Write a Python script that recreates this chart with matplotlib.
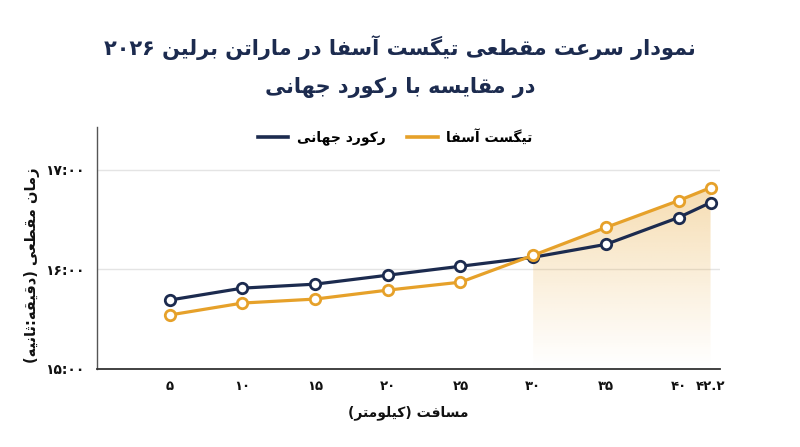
import re
import numpy as np
import matplotlib
matplotlib.use("Agg")
import matplotlib.pyplot as plt
from matplotlib.patches import Polygon
from matplotlib.lines import Line2D

# data (split times in minutes)
distances = [5, 10, 15, 20, 25, 30, 35, 40, 42.2]
dist_labels = ["۵", "۱۰", "۱۵", "۲۰", "۲۵", "۳۰", "۳۵", "۴۰", "۴۲.۲"]
world_record = [15.69, 15.81, 15.85, 15.94, 16.03, 16.12, 16.25, 16.52, 16.67]
asefa = [15.54, 15.66, 15.70, 15.79, 15.87, 16.14, 16.42, 16.69, 16.82]
y_ticks = [15, 16, 17]
y_tick_labels = ["۱۵:۰۰", "۱۶:۰۰", "۱۷:۰۰"]

title_lines = ["نمودار سرعت مقطعی تیگست آسفا در ماراتن برلین ۲۰۲۶",
               "در مقایسه با رکورد جهانی"]
label_wr = "رکورد جهانی"
label_asefa = "تیگست آسفا"
x_title = "مسافت (کیلومتر)"
y_title = "زمان مقطعی (دقیقه:ثانیه)"

NAVY = "#1c2b4f"
ORANGE = "#e6a12a"

# --- tiny persian shaper (matplotlib has no text shaping / bidi) ---
FORMS = {
    'ا': ('\uFE8D', '\uFE8E', None, None),
    'آ': ('\uFE81', '\uFE82', None, None),
    'ب': ('\uFE8F', '\uFE90', '\uFE91', '\uFE92'),
    'ت': ('\uFE95', '\uFE96', '\uFE97', '\uFE98'),
    'ث': ('\uFE99', '\uFE9A', '\uFE9B', '\uFE9C'),
    'ج': ('\uFE9D', '\uFE9E', '\uFE9F', '\uFEA0'),
    'د': ('\uFEA9', '\uFEAA', None, None),
    'ر': ('\uFEAD', '\uFEAE', None, None),
    'ز': ('\uFEAF', '\uFEB0', None, None),
    'س': ('\uFEB1', '\uFEB2', '\uFEB3', '\uFEB4'),
    'ط': ('\uFEC1', '\uFEC2', '\uFEC3', '\uFEC4'),
    'ع': ('\uFEC9', '\uFECA', '\uFECB', '\uFECC'),
    'ف': ('\uFED1', '\uFED2', '\uFED3', '\uFED4'),
    'ق': ('\uFED5', '\uFED6', '\uFED7', '\uFED8'),
    'ک': ('\uFB8E', '\uFB8F', '\uFB90', '\uFB91'),
    'گ': ('\uFB92', '\uFB93', '\uFB94', '\uFB95'),
    'ل': ('\uFEDD', '\uFEDE', '\uFEDF', '\uFEE0'),
    'م': ('\uFEE1', '\uFEE2', '\uFEE3', '\uFEE4'),
    'ن': ('\uFEE5', '\uFEE6', '\uFEE7', '\uFEE8'),
    'ه': ('\uFEE9', '\uFEEA', '\uFEEB', '\uFEEC'),
    'و': ('\uFEED', '\uFEEE', None, None),
    'ی': ('\uFBFC', '\uFBFD', '\uFBFE', '\uFBFF'),
}
MIRROR = {'(': ')', ')': '('}


def fa(text):
    out = []
    n = len(text)
    for i, ch in enumerate(text):
        if ch not in FORMS:
            out.append(ch)
            continue
        prev = text[i - 1] if i > 0 else ''
        nxt = text[i + 1] if i < n - 1 else ''
        join_prev = prev in FORMS and FORMS[prev][2] is not None
        join_next = FORMS[ch][2] is not None and nxt in FORMS
        f = FORMS[ch]
        if join_prev and join_next:
            out.append(f[3])
        elif join_prev:
            out.append(f[1])
        elif join_next:
            out.append(f[2])
        else:
            out.append(f[0])
    vis = ''.join(MIRROR.get(c, c) for c in reversed(out))
    # numbers keep left-to-right order
    return re.sub(r'[0-9۰-۹][0-9۰-۹.:]*', lambda m: m.group(0)[::-1], vis)


plt.rcParams['font.family'] = ['DejaVu Sans']
plt.rcParams['font.weight'] = 'bold'

fig = plt.figure(figsize=(8, 4.47), dpi=100)
ax = fig.add_axes([97 / 800, 1 - 368.7 / 447, (720 - 97) / 800, (368.7 - 127) / 447])

ax.set_xlim(0, 42.85)
ax.set_ylim(15, 17.43)

# gradient fill under the asefa line from 30 km on
i0 = distances.index(30)
xs = distances[i0:]
ys = asefa[i0:]
poly = Polygon(list(zip(xs, ys)) + [(xs[-1], 15), (xs[0], 15)], closed=True,
               facecolor='none', edgecolor='none')
ax.add_patch(poly)
grad = np.zeros((200, 1, 4))
grad[:, 0, :3] = matplotlib.colors.to_rgb(ORANGE)
grad[:, 0, 3] = np.linspace(0.0, 0.40, 200) ** 1.1
img = ax.imshow(grad, extent=[xs[0], xs[-1], 15, max(ys)], origin='lower',
                aspect='auto', zorder=1, interpolation='bilinear')
img.set_clip_path(poly)

for yv in y_ticks[1:]:
    ax.axhline(yv, color='#e4e4e4', lw=1, zorder=0)

ax.plot(distances, world_record, color=NAVY, lw=2.3, marker='o', ms=7.5,
        mfc='white', mec=NAVY, mew=2.0, zorder=3)
ax.plot(distances, asefa, color=ORANGE, lw=2.3, marker='o', ms=7.5,
        mfc='white', mec=ORANGE, mew=2.0, zorder=4)

ax.set_xticks(distances)
ax.set_xticklabels(dist_labels, fontsize=9.5, fontweight='bold', color='#111111')
ax.set_yticks(y_ticks)
ax.set_yticklabels(y_tick_labels, fontsize=10, fontweight='bold', color='#111111')
ax.tick_params(length=0)
ax.tick_params(axis='x', pad=8)
ax.tick_params(axis='y', pad=9)

for s in ['top', 'right']:
    ax.spines[s].set_visible(False)
ax.spines['left'].set_color('#555555')
ax.spines['left'].set_linewidth(1.0)
ax.spines['bottom'].set_color('#333333')
ax.spines['bottom'].set_linewidth(1.3)

ax.set_xlabel(fa(x_title), fontsize=10, fontweight='bold', color='#111111', labelpad=9)
fig.text(32 / 800, 1 - 265 / 447, fa(y_title), rotation=90, ha='center', va='center',
         fontsize=10.5, fontweight='bold', color='#111111')

for k, line in enumerate(title_lines):
    fig.text(0.5, 1 - (48 + 40 * k) / 447, fa(line), ha='center', va='center',
             fontsize=15, fontweight='bold', color=NAVY)

handles = [Line2D([], [], color=NAVY, lw=2.6), Line2D([], [], color=ORANGE, lw=2.6)]
fig.legend(handles, [fa(label_wr), fa(label_asefa)], loc='center',
           bbox_to_anchor=(0.494, 1 - 137 / 447), ncol=2, frameon=False,
           prop={'size': 10, 'weight': 'bold'}, handlelength=2.2, columnspacing=1.6,
           handletextpad=0.6)

fig.savefig('out.png', dpi=100, facecolor='white')
